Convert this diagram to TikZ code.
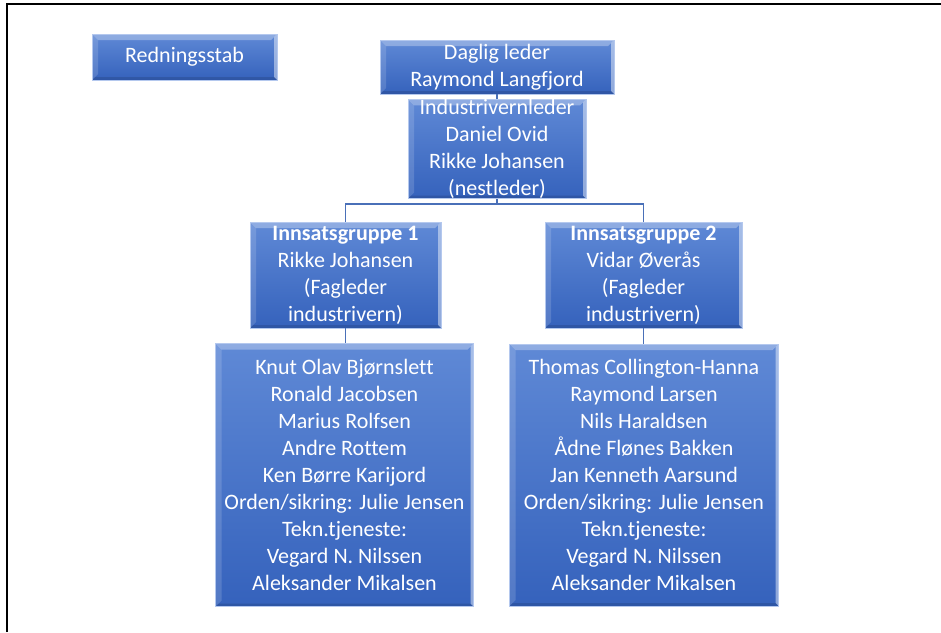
\documentclass[tikz,border=0pt]{standalone}
\usepackage{fontspec}
\setmainfont{Carlito}[Ligatures=NoCommon]
\definecolor{boxtop}{HTML}{5F89D6}
\definecolor{boxbot}{HTML}{3562BC}
\definecolor{boxedge}{HTML}{B4C8EE}
\definecolor{linkblue}{HTML}{4A70B8}
\tikzset{
  orgbox/.style={rectangle,inner sep=0pt,top color=boxtop,bottom color=boxbot,
    draw=boxedge,line width=.8pt,text=white,align=center,
    font=\fontsize{22}{27}\selectfont,
    path picture={
      \fill[white,opacity=.30] (path picture bounding box.north west) -- (path picture bounding box.north east)
        -- ([xshift=-6pt,yshift=-6pt]path picture bounding box.north east) -- ([xshift=6pt,yshift=-6pt]path picture bounding box.north west) -- cycle;
      \fill[white,opacity=.15] (path picture bounding box.north west) -- (path picture bounding box.south west)
        -- ([xshift=6pt,yshift=6pt]path picture bounding box.south west) -- ([xshift=6pt,yshift=-6pt]path picture bounding box.north west) -- cycle;
      \fill[white,opacity=.45] (path picture bounding box.north east) -- (path picture bounding box.south east)
        -- ([xshift=-3pt,yshift=3pt]path picture bounding box.south east) -- ([xshift=-3pt,yshift=-3pt]path picture bounding box.north east) -- cycle;
      \fill[black,opacity=.12] (path picture bounding box.south west) -- (path picture bounding box.south east)
        -- ([xshift=-3pt,yshift=3pt]path picture bounding box.south east) -- ([xshift=3pt,yshift=3pt]path picture bounding box.south west) -- cycle;
    }},
  link/.style={draw=linkblue,line width=1.6pt}
}
\begin{document}
\begin{tikzpicture}[x=1pt,y=-1pt]
\useasboundingbox (0,0) rectangle (941,632);
% frame
\draw[line width=1.8pt] (7,632) -- (7,4) -- (941,4);
% boxes
\node [orgbox,minimum width=185pt,minimum height=46pt](Stab) at (184.5,57){Redningsstab};
\node [orgbox,minimum width=234pt,minimum height=54pt](Daglig) at (497,67){Daglig leder\\Raymond Langfjord};
\node [orgbox,minimum width=178pt,minimum height=98pt](IVL) at (497,149){Industrivernleder\\Daniel Ovid\\Rikke Johansen\\(nestleder)};
\node [orgbox,minimum width=191pt,minimum height=106pt](Grp1) at (345.5,275){\textbf{Innsatsgruppe 1}\\Rikke Johansen\\(Fagleder\\industrivern)};
\node [orgbox,minimum width=197pt,minimum height=106pt](Grp2) at (643.5,275){\textbf{Innsatsgruppe 2}\\Vidar Øverås\\(Fagleder\\industrivern)};
\node [orgbox,minimum width=258pt,minimum height=263pt](Mem1) at (344.5,475){Knut Olav Bjørnslett\\Ronald Jacobsen\\Marius Rolfsen\\Andre Rottem\\Ken Børre Karijord\\Orden/sikring: Julie Jensen\\Tekn.tjeneste:\\Vegard N. Nilssen\\Aleksander Mikalsen};
\node [orgbox,minimum width=269pt,minimum height=262pt](Mem2) at (644,475){Thomas Collington-Hanna\\Raymond Larsen\\Nils Haraldsen\\Ådne Flønes Bakken\\Jan Kenneth Aarsund\\Orden/sikring: Julie Jensen\\Tekn.tjeneste:\\Vegard N. Nilssen\\Aleksander Mikalsen};
% links
\coordinate (Bar) at (497,204);
\draw [link](Daglig.south) -- (IVL.north);
\draw [link](IVL.south) -- (Bar) -| (Grp1.north);
\draw [link](Bar) -| (Grp2.north);
\draw [link](Grp1.south) -- (Grp1.south |- Mem1.north);
\draw [link](Grp2.south) -- (Grp2.south |- Mem2.north);
\end{tikzpicture}
\end{document}
